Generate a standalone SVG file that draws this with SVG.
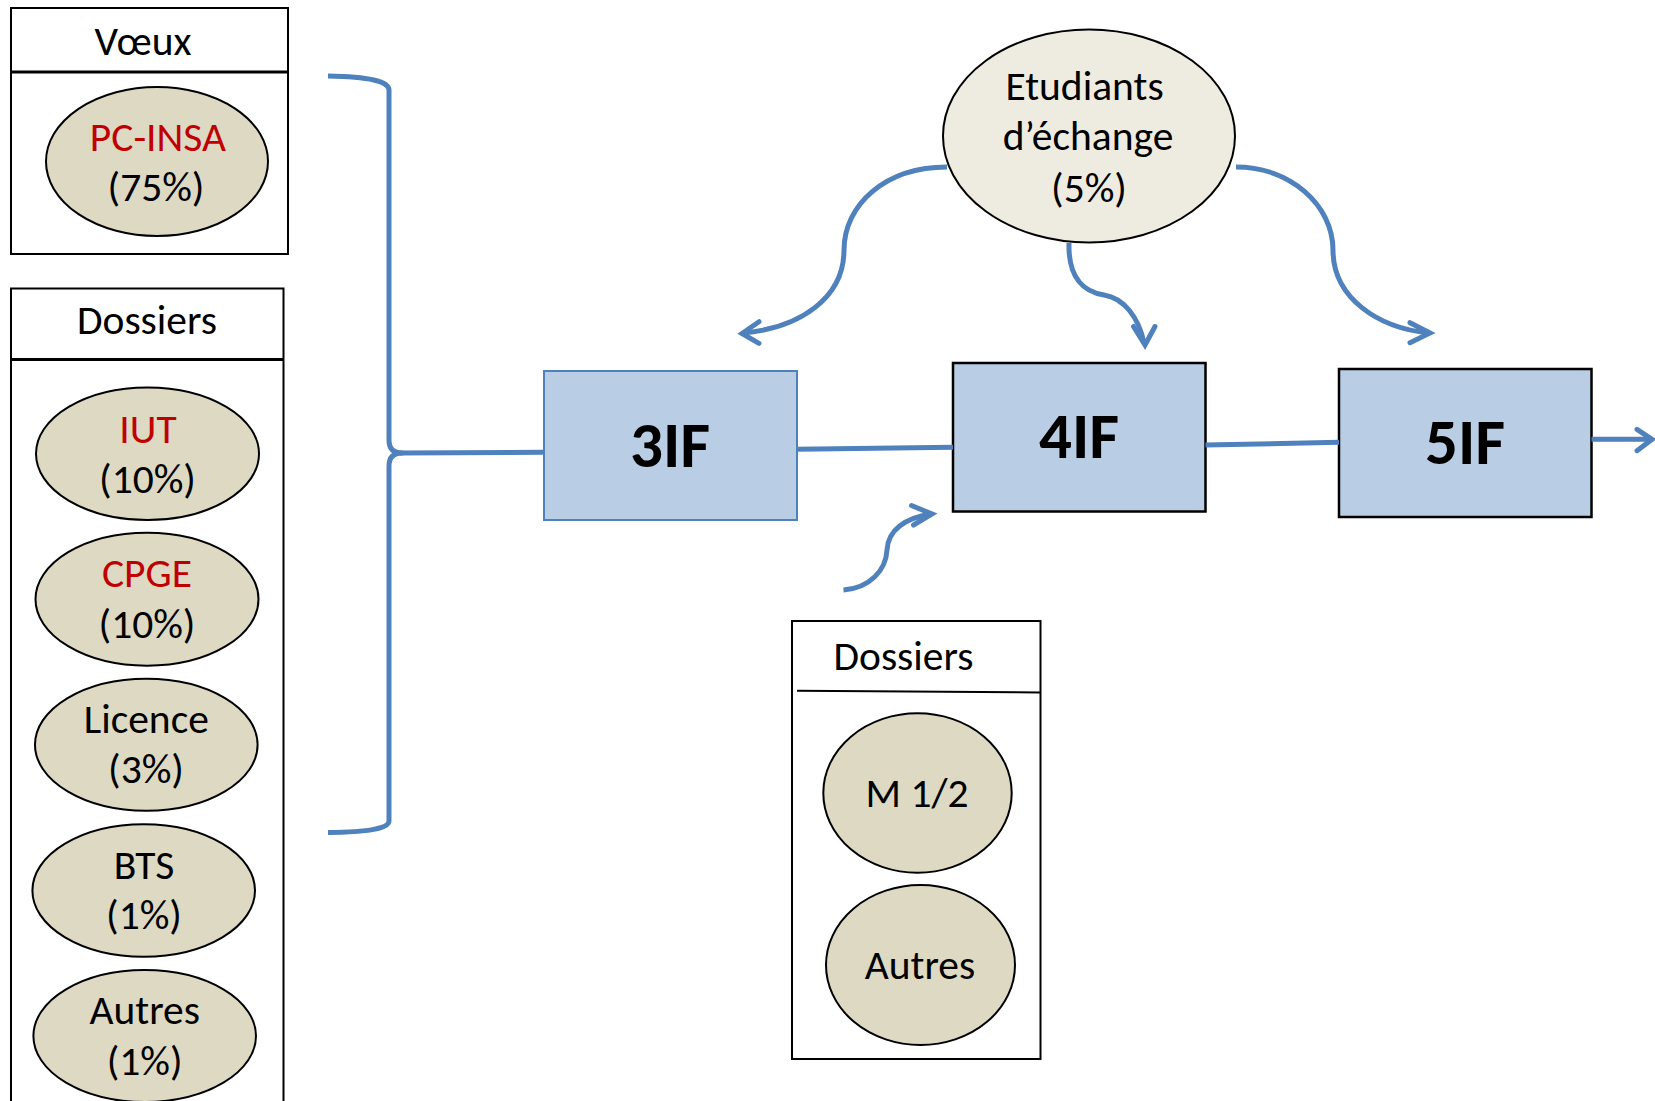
<svg xmlns="http://www.w3.org/2000/svg" width="1655" height="1101" viewBox="0 0 1655 1101">
<style>
text{font-family:Carlito,Lato,"Liberation Sans",sans-serif;font-size:41.5px;fill:#000;text-anchor:middle}
.red{fill:#C00000}
.big{font-weight:bold;font-size:65px}
.frame{fill:#fff;stroke:#000;stroke-width:2}
.hdr{stroke:#000;stroke-width:3;fill:none}
.tan{fill:#DDD9C3;stroke:#000;stroke-width:2}
.lt{fill:#EEECE1;stroke:#000;stroke-width:2}
.box{fill:#B9CDE5;stroke:#000;stroke-width:2.5}
.conn{fill:none;stroke:#4F81BD;stroke-width:5;stroke-linecap:butt;stroke-linejoin:round}
.head{fill:none;stroke:#4F81BD;stroke-width:5;stroke-linecap:round;stroke-linejoin:miter}
</style>
<rect width="1655" height="1101" fill="#fff"/>

<g id="voeux">
<rect class="frame" x="11" y="8" width="277" height="246"/>
<line class="hdr" x1="11" y1="72" x2="288" y2="72"/>
<text x="143" y="55">Vœux</text>
</g>
<g id="pc-insa">
<ellipse class="tan" cx="157" cy="161.5" rx="111" ry="74.5"/>
<text x="158" y="150.5" class="red">PC-INSA</text>
<text x="156" y="201">(75%)</text>
</g>

<g id="dossiers-left">
<rect class="frame" x="11" y="288.5" width="272.5" height="830"/>
<line class="hdr" x1="11" y1="359.5" x2="283.5" y2="359.5"/>
<text x="147" y="333.5">Dossiers</text>
</g>
<g id="iut">
<ellipse class="tan" cx="147.5" cy="453.7" rx="111.5" ry="66.3"/>
<text x="148" y="443.3" class="red">IUT</text>
<text x="147.5" y="493.3">(10%)</text>
</g>
<g id="cpge">
<ellipse class="tan" cx="147" cy="599.2" rx="111.5" ry="66.5"/>
<text x="147" y="587.3" class="red">CPGE</text>
<text x="147" y="638.3">(10%)</text>
</g>
<g id="licence">
<ellipse class="tan" cx="146.3" cy="744.7" rx="111.3" ry="66"/>
<text x="146.3" y="733.3">Licence</text>
<text x="146" y="783.3">(3%)</text>
</g>
<g id="bts">
<ellipse class="tan" cx="143.7" cy="890.5" rx="111.3" ry="66.2"/>
<text x="144" y="879.3">BTS</text>
<text x="144" y="929.3">(1%)</text>
</g>
<g id="autres-left">
<ellipse class="tan" cx="144.7" cy="1036" rx="111.3" ry="66"/>
<text x="144.7" y="1024">Autres</text>
<text x="144.7" y="1075">(1%)</text>
</g>

<g id="box-3if">
<rect x="544" y="371" width="253" height="149" fill="#B9CDE5" stroke="#4F81BD" stroke-width="2"/>
<text x="670" y="466.7" class="big">3IF</text>
</g>
<g id="box-4if">
<rect class="box" x="953" y="363" width="252.5" height="148.5"/>
<text x="1079" y="458.3" class="big">4IF</text>
</g>
<g id="box-5if">
<rect class="box" x="1339" y="369" width="252.5" height="148"/>
<text x="1465" y="464" class="big">5IF</text>
</g>

<g id="etudiants">
<ellipse class="lt" cx="1089" cy="136" rx="146" ry="106.5"/>
<text x="1084.5" y="100">Etudiants</text>
<text x="1088" y="150">d’échange</text>
<text x="1089" y="201.7">(5%)</text>
</g>

<g id="dossiers-bottom">
<rect class="frame" x="792" y="621" width="248.5" height="438"/>
<line x1="797" y1="690.7" x2="1040.5" y2="692.5" stroke="#000" stroke-width="2"/>
<text x="903.5" y="670">Dossiers</text>
</g>
<g id="m12">
<ellipse class="tan" cx="917.5" cy="793" rx="94.2" ry="79.7"/>
<text x="917" y="807.3">M 1/2</text>
</g>
<g id="autres-bottom">
<ellipse class="tan" cx="920.5" cy="965" rx="94.5" ry="80"/>
<text x="920" y="979.3">Autres</text>
</g>

<g id="connectors">
<path class="conn" d="M328,76 Q389,77 389,90 V440 Q389,453 402,453 Q389,453 389,466 V821 Q389,832 328,832.5"/>
<path class="conn" d="M400,453 L544,452.3"/>
<path class="conn" d="M797,449.3 L953,447.3"/>
<path class="conn" d="M1205.5,445 L1339,442.3"/>
<path class="conn" d="M1591.5,439.3 L1651,439.3"/>
<polyline class="head" points="1637,429.3 1652,439.3 1637,450.7"/>

<path class="conn" d="M947,167 C885,167 844,205 844,250 C844,298 800,328 743,333"/>
<polyline class="head" points="759,321.7 742,333.5 759,343.3"/>

<path class="conn" d="M1069,243 C1068,278 1084,292 1104,295 C1124,298 1139,318 1144,343"/>
<polyline class="head" points="1133.5,326.5 1145,345 1155,326.5"/>

<path class="conn" d="M1236,167 C1290,167 1333,205 1333,250 C1333,298 1378,328 1429,333"/>
<polyline class="head" points="1410,322.7 1430,333 1410,342.7"/>

<path class="conn" d="M843.5,590 C870,588 886,570 887,550 C888,530 905,518 931,514"/>
<polyline class="head" points="911.5,505.5 932,514 913.5,525"/>
</g>
</svg>
